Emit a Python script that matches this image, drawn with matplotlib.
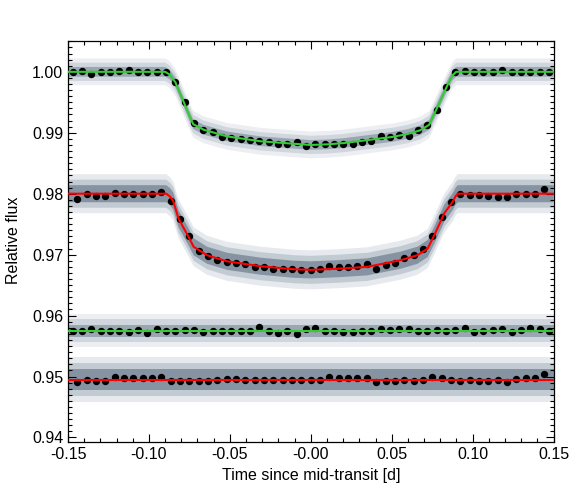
import numpy as np
import matplotlib
matplotlib.use("Agg")
import matplotlib.pyplot as plt
from matplotlib.ticker import MultipleLocator

plt.rcParams['font.family'] = ['Liberation Sans', 'DejaVu Sans']

# --- model curves ---
t_mod1 = [-0.15, -0.0899, -0.087, -0.0837, -0.0786, -0.075, -0.0726, -0.0662,
          -0.0517, -0.031, -0.0106, 0.0, 0.0106, 0.02, 0.035, 0.05, 0.06,
          0.0675, 0.0731, 0.0784, 0.0846, 0.0875, 0.0898, 0.15]
f_mod1 = [1.0, 1.0, 0.9995, 0.9983, 0.9951, 0.9928, 0.9914, 0.9905,
          0.9894, 0.9886, 0.9882, 0.9880, 0.9881, 0.9883, 0.9888, 0.9893, 0.9898,
          0.9904, 0.9913, 0.9943, 0.9979, 0.9994, 1.0, 1.0]

t_mod2 = [-0.15, -0.0893, -0.0869, -0.085, -0.0817, -0.0786, -0.0755, -0.0724,
          -0.0641, -0.0517, -0.031, -0.0104, 0.0, 0.0175, 0.035, 0.0557, 0.0659,
          0.0722, 0.0763, 0.0825, 0.0877, 0.0895, 0.0908, 0.15]
f_mod2 = [0.98, 0.98, 0.9795, 0.9788, 0.9759, 0.9744, 0.9729, 0.9713,
          0.9699, 0.9689, 0.9681, 0.9676, 0.9675, 0.9677, 0.9680, 0.9691, 0.9699,
          0.9710, 0.9732, 0.9768, 0.9787, 0.9796, 0.98, 0.98]

t_flat = [-0.15, 0.15]
f_flat_green = [0.9575, 0.9575]
f_flat_red = [0.9495, 0.9495]

# --- binned points ---
t_bin_a = [-0.1471, -0.1413, -0.1356, -0.1298, -0.1240, -0.1183, -0.1125, -0.1067,
           -0.1010, -0.0952, -0.0894, -0.0837, -0.0779, -0.0721, -0.0663, -0.0606,
           -0.0548, -0.0490, -0.0433, -0.0375, -0.0317, -0.0260, -0.0202, -0.0144,
           -0.0087, -0.0029, 0.0029, 0.0087, 0.0144, 0.0202, 0.0260, 0.0317,
           0.0375, 0.0433, 0.0490, 0.0548, 0.0606, 0.0663, 0.0721, 0.0779,
           0.0837, 0.0894, 0.0952, 0.1010, 0.1067, 0.1125, 0.1183, 0.1240,
           0.1298, 0.1356, 0.1413, 0.1471]
t_bin_b = [-0.1442, -0.1385, -0.1327, -0.1269, -0.1212, -0.1154, -0.1096, -0.1038,
           -0.0981, -0.0923, -0.0865, -0.0808, -0.0750, -0.0692, -0.0635, -0.0577,
           -0.0519, -0.0462, -0.0404, -0.0346, -0.0288, -0.0231, -0.0173, -0.0115,
           -0.0058, 0.0, 0.0058, 0.0115, 0.0173, 0.0231, 0.0288, 0.0346,
           0.0404, 0.0462, 0.0519, 0.0577, 0.0635, 0.0692, 0.0750, 0.0808,
           0.0865, 0.0923, 0.0981, 0.1038, 0.1096, 0.1154, 0.1212, 0.1269,
           0.1327, 0.1385, 0.1442]

bin_tr1 = [1.0000, 1.0002, 0.9997, 1.0000, 1.0000, 1.0002, 1.0003, 1.0000, 0.9999, 1.0000,
           0.9999, 0.9984, 0.9951, 0.9916, 0.9904, 0.9902, 0.9893, 0.9891, 0.9889, 0.9888,
           0.9886, 0.9885, 0.9882, 0.9882, 0.9885, 0.9879, 0.9881, 0.9881, 0.9881, 0.9881,
           0.9882, 0.9885, 0.9887, 0.9895, 0.9893, 0.9896, 0.9895, 0.9904, 0.9913, 0.9937,
           0.9975, 0.9999, 1.0002, 1.0000, 1.0000, 1.0000, 1.0003, 1.0000, 1.0000, 1.0000,
           1.0000, 1.0000]
bin_tr2 = [0.9792, 0.9799, 0.9797, 0.9797, 0.9801, 0.9800, 0.9799, 0.9799, 0.9799, 0.9803,
           0.9788, 0.9759, 0.9730, 0.9706, 0.9698, 0.9692, 0.9688, 0.9687, 0.9684, 0.9680,
           0.9679, 0.9677, 0.9676, 0.9676, 0.9675, 0.9675, 0.9677, 0.9681, 0.9679, 0.9679,
           0.9681, 0.9684, 0.9677, 0.9683, 0.9687, 0.9694, 0.9699, 0.9709, 0.9730, 0.9762,
           0.9787, 0.9799, 0.9798, 0.9798, 0.9797, 0.9795, 0.9795, 0.9799, 0.9800, 0.9800,
           0.9807]
bin_green = [0.9575, 0.9575, 0.9578, 0.9575, 0.9575, 0.9575, 0.9573, 0.9577, 0.9571, 0.9578,
             0.9575, 0.9575, 0.9577, 0.9577, 0.9573, 0.9575, 0.9575, 0.9575, 0.9575, 0.9575,
             0.9581, 0.9575, 0.9572, 0.9575, 0.9570, 0.9578, 0.9580, 0.9575, 0.9575, 0.9573,
             0.9573, 0.9575, 0.9575, 0.9578, 0.9576, 0.9578, 0.9578, 0.9574, 0.9575, 0.9576,
             0.9575, 0.9576, 0.9580, 0.9573, 0.9574, 0.9577, 0.9578, 0.9573, 0.9576, 0.9580,
             0.9578, 0.9575]
bin_red = [0.9491, 0.9495, 0.9493, 0.9493, 0.9499, 0.9498, 0.9498, 0.9498, 0.9498, 0.9500,
           0.9493, 0.9492, 0.9493, 0.9492, 0.9492, 0.9495, 0.9496, 0.9496, 0.9495, 0.9495,
           0.9495, 0.9495, 0.9495, 0.9494, 0.9495, 0.9495, 0.9495, 0.9499, 0.9497, 0.9497,
           0.9497, 0.9498, 0.9491, 0.9492, 0.9492, 0.9495, 0.9493, 0.9495, 0.9499, 0.9497,
           0.9495, 0.9493, 0.9495, 0.9493, 0.9492, 0.9495, 0.9491, 0.9496, 0.9497, 0.9498,
           0.9504]

# spread of the unbinned points around each model: (core, outer, outliers) half width
spread_tr1 = (0.0008, 0.0015, 0.0022)
spread_tr2 = (0.0014, 0.0023, 0.0032)
spread_green = (0.0010, 0.0019, 0.0027)
spread_red = (0.0017, 0.0027, 0.0037)

xticks = [-0.15, -0.10, -0.05, 0.0, 0.05, 0.10, 0.15]
xticklabels = ['-0.15', '-0.10', '-0.05', '-0.00', '0.05', '0.10', '0.15']
yticks = [0.94, 0.95, 0.96, 0.97, 0.98, 0.99, 1.00]
yticklabels = ['0.94', '0.95', '0.96', '0.97', '0.98', '0.99', '1.00']

fig = plt.figure(figsize=(5.71, 4.92), dpi=100)
ax = fig.add_axes([0.1191, 0.1022, 0.8504, 0.8150])


def cloud(t, f, spread, dense):
    # grey bands standing in for the unbinned points
    t = np.asarray(t)
    f = np.asarray(f)
    core, outer, far = spread
    core_c = '#8593a2' if dense else '#9aa6b2'
    outer_c = '#c2cad2' if dense else '#d0d6dd'
    far_c = '#e6e9ed' if dense else '#eceef1'
    ax.fill_between(t, f - far, f + far, facecolor=far_c, linewidth=0, zorder=1)
    ax.fill_between(t, f - outer, f + outer, facecolor=outer_c, linewidth=0, zorder=1)
    ax.fill_between(t, f - core, f + core, facecolor=core_c, linewidth=0, zorder=1)


cloud(t_mod1, f_mod1, spread_tr1, False)
cloud(t_mod2, f_mod2, spread_tr2, True)
cloud(t_flat, f_flat_green, spread_green, False)
cloud(t_flat, f_flat_red, spread_red, True)

for t, f in [(t_bin_a, bin_tr1), (t_bin_b, bin_tr2), (t_bin_a, bin_green), (t_bin_b, bin_red)]:
    ax.plot(t, f, 'o', color='black', markersize=5.3, markeredgewidth=0, zorder=2)

ax.plot(t_mod1, f_mod1, color='#33cc33', lw=1.5, zorder=3)
ax.plot(t_mod2, f_mod2, color='red', lw=1.5, zorder=3)
ax.plot(t_flat, f_flat_green, color='#33cc33', lw=1.5, zorder=3)
ax.plot(t_flat, f_flat_red, color='red', lw=1.5, zorder=3)

ax.set_xlim(-0.15, 0.15)
ax.set_ylim(0.9393, 1.0051)
ax.set_xticks(xticks)
ax.set_xticklabels(xticklabels)
ax.set_yticks(yticks)
ax.set_yticklabels(yticklabels)
ax.xaxis.set_minor_locator(MultipleLocator(0.01))
ax.yaxis.set_minor_locator(MultipleLocator(0.001))
ax.tick_params(which='both', direction='in', top=True, right=True, labelsize=11.5, width=0.8)
ax.tick_params(which='major', length=6)
ax.tick_params(which='minor', length=3)
for s in ax.spines.values():
    s.set_linewidth(0.9)

ax.set_xlabel('Time since mid-transit [d]', fontsize=11.5)
ax.set_ylabel('Relative flux', fontsize=11.5)
ax.xaxis.set_label_coords(0.5, -0.065)
ax.yaxis.set_label_coords(-0.097, 0.503)

fig.savefig('out.png', dpi=100)
